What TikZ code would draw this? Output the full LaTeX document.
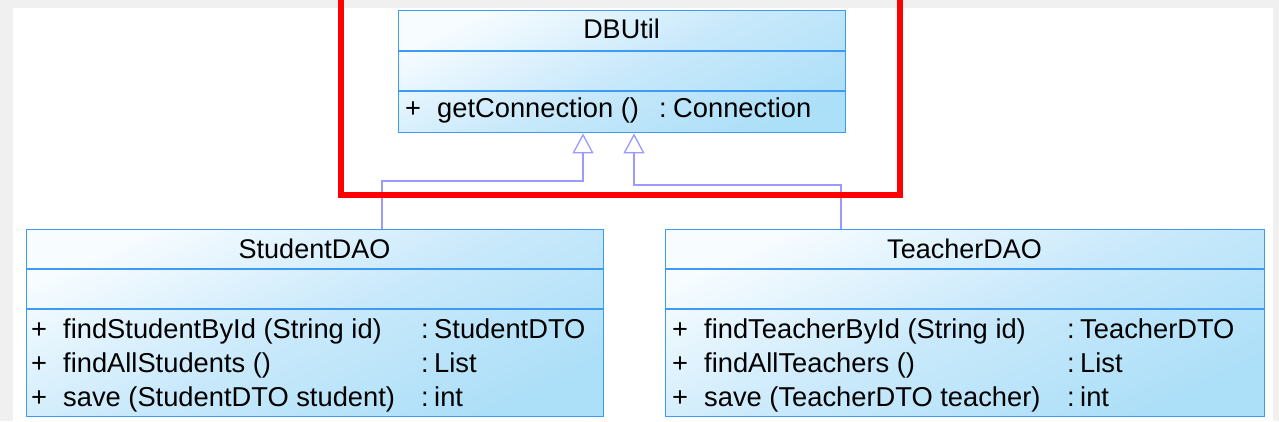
\documentclass[tikz,border=0pt]{standalone}
\usepackage{fontspec}
\setmainfont{Liberation Sans}
\usetikzlibrary{arrows.meta}
\definecolor{bord}{HTML}{3D9BF5}
\definecolor{gtop}{HTML}{F7FCFF}
\definecolor{gmid}{HTML}{C9E9FB}
\definecolor{gbot}{HTML}{ACDFF8}
\definecolor{conn}{HTML}{9A9AFF}
\definecolor{bgray}{HTML}{F0F0F0}
\tikzset{
  classbox/.style={draw=bord, line width=1.4pt, top color=gtop, bottom color=gbot, middle color=gmid, shading angle=25, anchor=north west, inner sep=0pt},
  divider/.style={draw=bord, line width=1.4pt},
  txt/.style={anchor=base west, inner sep=0pt, font=\fontsize{27.3}{30}\selectfont},
  ttl/.style={anchor=base, inner sep=0pt, font=\fontsize{27}{30}\selectfont},
  gen/.style={draw=conn, line width=1.3pt, -{Triangle[open, length=20pt, width=21pt, line width=1.3pt]}},
  frame/.style={draw=red, line width=6pt}
}
\begin{document}
\begin{tikzpicture}[x=1pt, y=-1pt]
\useasboundingbox (0,0) rectangle (1279,421);
\fill[bgray] (0,0) rectangle (1279,421);
\fill[white] (13,8) rectangle (1273,421);
% boxes
\node[classbox, minimum width=447pt, minimum height=122pt] (db) at (398,10) {};
\node[classbox, minimum width=577pt, minimum height=187pt] (sd) at (26,229) {};
\node[classbox, minimum width=599pt, minimum height=187pt] (td) at (665,229) {};
\draw[divider] ([yshift=-41pt]db.north west) -- ([yshift=-41pt]db.north east);
\draw[divider] ([yshift=-81pt]db.north west) -- ([yshift=-81pt]db.north east);
\draw[divider] ([yshift=-40pt]sd.north west) -- ([yshift=-40pt]sd.north east);
\draw[divider] ([yshift=-80pt]sd.north west) -- ([yshift=-80pt]sd.north east);
\draw[divider] ([yshift=-40pt]td.north west) -- ([yshift=-40pt]td.north east);
\draw[divider] ([yshift=-80pt]td.north west) -- ([yshift=-80pt]td.north east);
% DBUtil texts
\node[ttl] (dbt) at (621.5,38) {DBUtil};
\node[txt] (dbp) at (405,117) {+};
\node[txt] (dbm) at (437,117) {getConnection ()};
\node[txt] (dbc) at (659,117) {:};
\node[txt] (dbr) at (673,117) {Connection};
% StudentDAO texts
\node[ttl] (sdt) at (314.5,258) {StudentDAO};
\node[txt] (sp1) at (31,338) {+};
\node[txt] (sm1) at (63,338) {findStudentById (String id)};
\node[txt] (sc1) at (421,338) {:};
\node[txt] (sr1) at (434,338) {StudentDTO};
\node[txt] (sp2) at (31,372) {+};
\node[txt] (sm2) at (63,372) {findAllStudents ()};
\node[txt] (sc2) at (421,372) {:};
\node[txt] (sr2) at (434,372) {List};
\node[txt] (sp3) at (31,406) {+};
\node[txt] (sm3) at (63,406) {save (StudentDTO student)};
\node[txt] (sc3) at (421,406) {:};
\node[txt] (sr3) at (434,406) {int};
% TeacherDAO texts
\node[ttl] (tdt) at (964.5,258) {TeacherDAO};
\node[txt] (tp1) at (672,338) {+};
\node[txt] (tm1) at (704,338) {findTeacherById (String id)};
\node[txt] (tc1) at (1067,338) {:};
\node[txt] (tr1) at (1080,338) {TeacherDTO};
\node[txt] (tp2) at (672,372) {+};
\node[txt] (tm2) at (704,372) {findAllTeachers ()};
\node[txt] (tc2) at (1067,372) {:};
\node[txt] (tr2) at (1080,372) {List};
\node[txt] (tp3) at (672,406) {+};
\node[txt] (tm3) at (704,406) {save (TeacherDTO teacher)};
\node[txt] (tc3) at (1067,406) {:};
\node[txt] (tr3) at (1080,406) {int};
% generalizations
\draw[gen] ([xshift=356pt]sd.north west) -- ++(0,-48) -| ([xshift=185pt]db.south west);
\draw[gen] ([xshift=176pt]td.north west) -- ++(0,-44) -| ([xshift=236pt]db.south west);
% red highlight frame
\draw[frame] (341,0) -- (341,194.5) -- (900,194.5) -- (900,0);
\end{tikzpicture}
\end{document}
